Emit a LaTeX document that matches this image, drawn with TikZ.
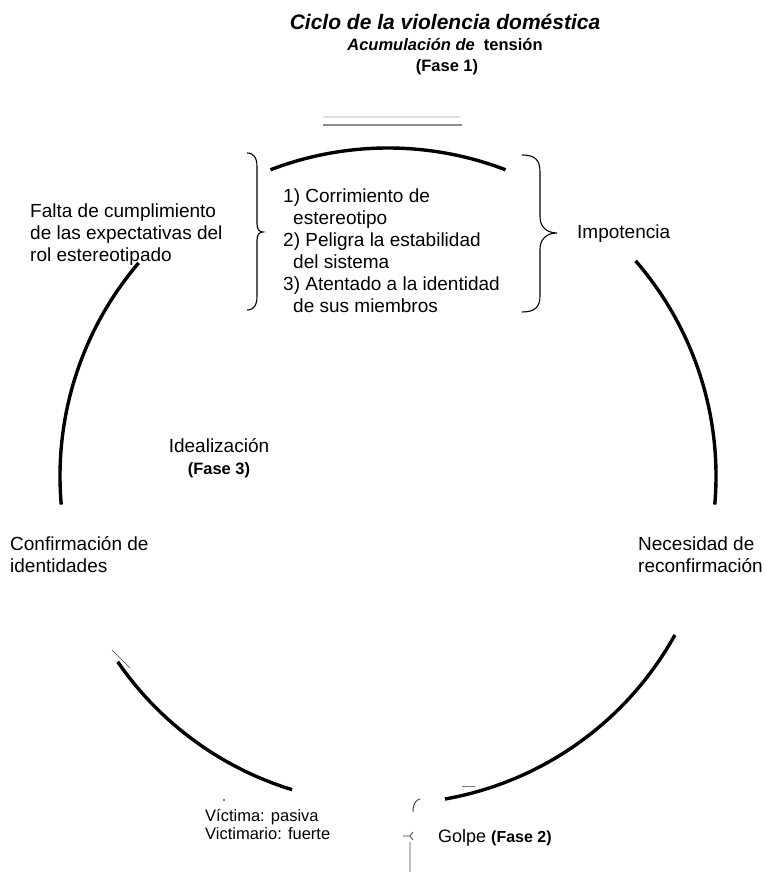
\documentclass[tikz,border=0pt]{standalone}
\usepackage{fontspec}
\setmainfont{Liberation Sans}
\begin{document}
\begin{tikzpicture}[x=1pt,y=1pt,
  arcline/.style={line width=3.4pt},
  bracel/.style={line width=1.1pt},
  artifact/.style={line width=0.6pt, draw=black!70},
  body/.style={inner sep=0pt, font=\fontsize{19}{22}\selectfont, align=left, anchor=base west},
  small/.style={inner sep=0pt, font=\fontsize{16.5}{18.5}\selectfont, align=left, anchor=base west}]
\useasboundingbox (0,0) rectangle (767,872);
\coordinate (c) at (388,396);
% arcs of the cycle
\draw[arcline] ([shift={(69:328)}]c) arc[start angle=69,end angle=111,radius=328];
\draw[arcline] ([shift={(-5:328)}]c) arc[start angle=-5,end angle=41,radius=328];
\draw[arcline] ([shift={(-80:328)}]c) arc[start angle=-80,end angle=-29,radius=328];
\draw[arcline] ([shift={(214.5:328)}]c) arc[start angle=214.5,end angle=253,radius=328];
\draw[arcline] ([shift={(139.5:328)}]c) arc[start angle=139.5,end angle=185,radius=328];
% title
\node[inner sep=0pt, anchor=base, font=\fontsize{21}{24}\selectfont\bfseries\itshape] (title) at (445,842) {Ciclo de la violencia doméstica};
\node[inner sep=0pt, anchor=base, font=\fontsize{16.5}{18}\selectfont\bfseries] (subtitle) at (445,821) {\itshape Acumulación de\ \ \upshape tensión};
\node[inner sep=0pt, anchor=base, font=\fontsize{16.5}{18}\selectfont\bfseries] (fase1) at (447,800) {(Fase 1)};
% gray scan line
\draw[black!45, line width=1.2pt] (323,747) -- (462,747);
\draw[black!12, line width=2pt] (323,755) -- (460,755);
% braces
\draw[bracel] (247,719) .. controls (254,719) and (257,714) .. (257,705) -- (257,648)
  .. controls (257,643) and (259,640) .. (263,640)
  .. controls (259,640) and (257,637) .. (257,632) -- (257,576)
  .. controls (257,567) and (254,562) .. (247,562);
\draw[bracel] (522,717) .. controls (535,717) and (540,712) .. (540,700) -- (540,655)
  .. controls (540,645) and (547,639) .. (557,639)
  .. controls (547,639) and (540,633) .. (540,623) -- (540,576)
  .. controls (540,565) and (535,560) .. (522,560);
% texts (base anchor = baseline of last line)
\node[body] (falta) at (30,610) {Falta de cumplimiento\\de las expectativas del\\rol estereotipado};
\node[body] (lista) at (283,559) {1) Corrimiento de\\\hspace*{10pt}estereotipo\\2) Peligra la estabilidad\\\hspace*{10pt}del sistema\\3) Atentado a la identidad\\\hspace*{10pt}de sus miembros};
\node[body] (impot) at (577,633) {Impotencia};
\node[body, align=center, anchor=base] (ideal) at (219,397) {Idealización\\{\fontsize{16.5}{20}\selectfont\bfseries(Fase 3)}};
\node[body] (confirm) at (10,299) {Confirmación de\\identidades};
\node[body] (necesidad) at (638,299) {Necesidad de\\reconfirmación};
\node[small] (victima) at (205,32) {Víctima: pasiva\\Victimario: fuerte};
\node[body, font=\fontsize{18}{22}\selectfont] (golpe) at (438,29) {Golpe {\fontsize{16}{20}\selectfont\bfseries(Fase 2)}};
% scan artifacts
\fill (273,704) circle[radius=1.1];
\fill (224,72) circle[radius=0.9];
\draw[artifact] (112,222) -- (130,204);
\draw[black!55, line width=0.8pt] (462,86) -- (475,86);
\draw[black!75, line width=0.9pt] (420,73) .. controls (416,72) and (413,69) .. (413,60);
\draw[black!75, line width=0.8pt] (403,36) -- (410,36) -- (413,40) (410,36) -- (413,32);
\draw[black!25, line width=2pt] (410,30) -- (410,0);
\end{tikzpicture}
\end{document}
